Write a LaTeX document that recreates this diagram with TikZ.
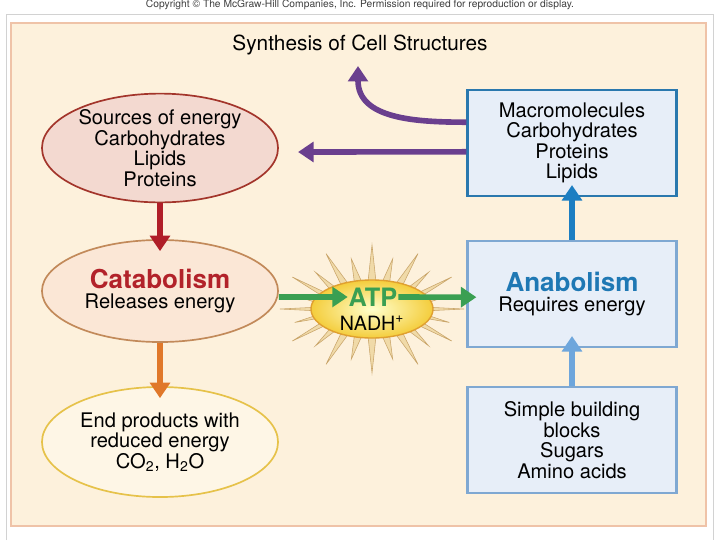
\documentclass[tikz,border=0pt]{standalone}
\usepackage{fontspec}
\setmainfont{TeX Gyre Heros}
\usetikzlibrary{shapes.geometric}
\usetikzlibrary{arrows.meta}

\definecolor{pagebg}{HTML}{FDF1DC}
\definecolor{pageline}{HTML}{EFC3A8}
\definecolor{srcfill}{HTML}{F3D9D0}
\definecolor{srcline}{HTML}{A3352B}
\definecolor{catfill}{HTML}{FBE7D6}
\definecolor{catline}{HTML}{C28A5A}
\definecolor{endfill}{HTML}{FEF6E6}
\definecolor{endline}{HTML}{E6C24A}
\definecolor{boxfill}{HTML}{E7EEF8}
\definecolor{boxline}{HTML}{7FA8D2}
\definecolor{boxdark}{HTML}{2A78AE}
\definecolor{catred}{HTML}{B2222A}
\definecolor{anablue}{HTML}{1F78B4}
\definecolor{atpgreen}{HTML}{3A9F52}
\definecolor{arrred}{HTML}{B01E28}
\definecolor{arrorange}{HTML}{E0782A}
\definecolor{arrblue}{HTML}{1C7EC2}
\definecolor{arrlight}{HTML}{6EA6DC}
\definecolor{arrpurple}{HTML}{6A3F8E}
\definecolor{sunfill}{HTML}{F4CD3C}
\definecolor{sunline}{HTML}{E0A030}
\definecolor{rayfill}{HTML}{F0DAA8}
\definecolor{rayline}{HTML}{C9A56A}

\begin{document}
\begin{tikzpicture}[x=0.025cm, y=-0.025cm,
    oval/.style={ellipse, draw, line width=1.2pt, minimum width=5.9cm, inner sep=0pt,
        align=center, font=\fontsize{14.3}{14.6}\selectfont},
    panel/.style={rectangle, draw=boxline, line width=1.5pt, fill=boxfill,
        minimum width=5.225cm, minimum height=2.65cm, align=center,
        font=\fontsize{14.3}{14.6}\selectfont},
    flow/.style={line width=4pt, -{Triangle[width=14pt,length=11pt]}}]
    \useasboundingbox (0,0) rectangle (720,540);
    \fill[white] (0,0) rectangle (720,540);
    \draw[gray!35] (6,540) -- (6,14) -- (713,14) -- (713,540);
    \draw[pageline, fill=pagebg, line width=1.5pt] (11,23) rectangle (706,526);

    \node[font=\fontsize{7.3}{8}\selectfont, text=black!75] (copy) at (360,5)
        {Copyright \textcopyright{} The McGraw-Hill Companies, Inc. Permission required for reproduction or display.};
    \node[font=\fontsize{14.8}{16}\selectfont] (title) at (360,45) {Synthesis of Cell Structures};

    % catabolism side
    \node[oval, draw=srcline, fill=srcfill, minimum height=2.65cm] (sources) at (160,148)
        {Sources of energy\\Carbohydrates\\Lipids\\Proteins};
    \node[oval, draw=catline, fill=catfill, minimum height=2.55cm] (catab) at (160,291)
        {{\fontsize{18.5}{19}\selectfont\bfseries\color{catred}Catabolism}\\Releases energy};
    \node[oval, draw=endline, fill=endfill, minimum height=2.75cm] (endprod) at (160,442)
        {End products with\\reduced energy\\CO\textsubscript{2}, H\textsubscript{2}O};

    % sun
    \foreach \a in {0,30,...,330} {
        \fill[rayfill, draw=rayline, line width=0.4pt]
            ({372+50*cos(\a-5)},{309+24*sin(\a-5)}) -- ({372+92*cos(\a)},{309+64*sin(\a)})
            -- ({372+50*cos(\a+5)},{309+24*sin(\a+5)}) -- cycle;
    }
    \foreach \a in {15,45,...,345} {
        \fill[rayfill, draw=rayline, line width=0.4pt]
            ({372+50*cos(\a-5)},{309+24*sin(\a-5)}) -- ({372+80*cos(\a)},{309+52*sin(\a)})
            -- ({372+50*cos(\a+5)},{309+24*sin(\a+5)}) -- cycle;
    }
    \node[ellipse, draw=sunline, line width=1pt, inner color=yellow!20!white, outer color=sunfill,
        minimum width=3.05cm, minimum height=1.45cm] (sun) at (372,309) {};
    \node[font=\fontsize{18}{18}\selectfont\bfseries, text=atpgreen, inner sep=0.5pt] (atplabel) at (373,297) {ATP};
    \node[font=\fontsize{14}{14}\selectfont, inner sep=0.5pt] (nadh) at (372,323) {NADH\textsuperscript{+}};

    % anabolism side
    \node[panel, draw=boxdark] (macro) at (572,143)
        {Macromolecules\\Carbohydrates\\Proteins\\Lipids};
    \node[panel] (anab) at (572,294)
        {{\fontsize{18.5}{19}\selectfont\bfseries\color{anablue}Anabolism}\\Requires energy};
    \node[panel] (blocks) at (572,440)
        {Simple building\\blocks\\Sugars\\Amino acids};

    \draw[flow, arrred] (sources.south) -- ([yshift=-0.3cm]catab.north);
    \draw[flow, arrorange] (catab.south) -- ([yshift=-0.3cm]endprod.north);
    \draw[flow, atpgreen] ([yshift=-0.15cm]catab.east) -- (atplabel.west);
    \draw[flow, atpgreen] (atplabel.east) -- ([xshift=0.25cm,yshift=-0.08cm]anab.west);
    \draw[flow, arrblue] (anab.north) -- ([yshift=0.3cm]macro.south);
    \draw[flow, arrlight] (blocks.north) -- ([yshift=0.3cm]anab.south);
    \draw[flow, arrpurple] ([yshift=-0.22cm]macro.west) -- ([xshift=0.48cm,yshift=-0.1cm]sources.east);
    \draw[flow, arrpurple] ([yshift=0.52cm]macro.west) to[out=180, in=-90, looseness=1.1]
        ([xshift=-0.05cm,yshift=-0.15cm]title.south);
\end{tikzpicture}
\end{document}
